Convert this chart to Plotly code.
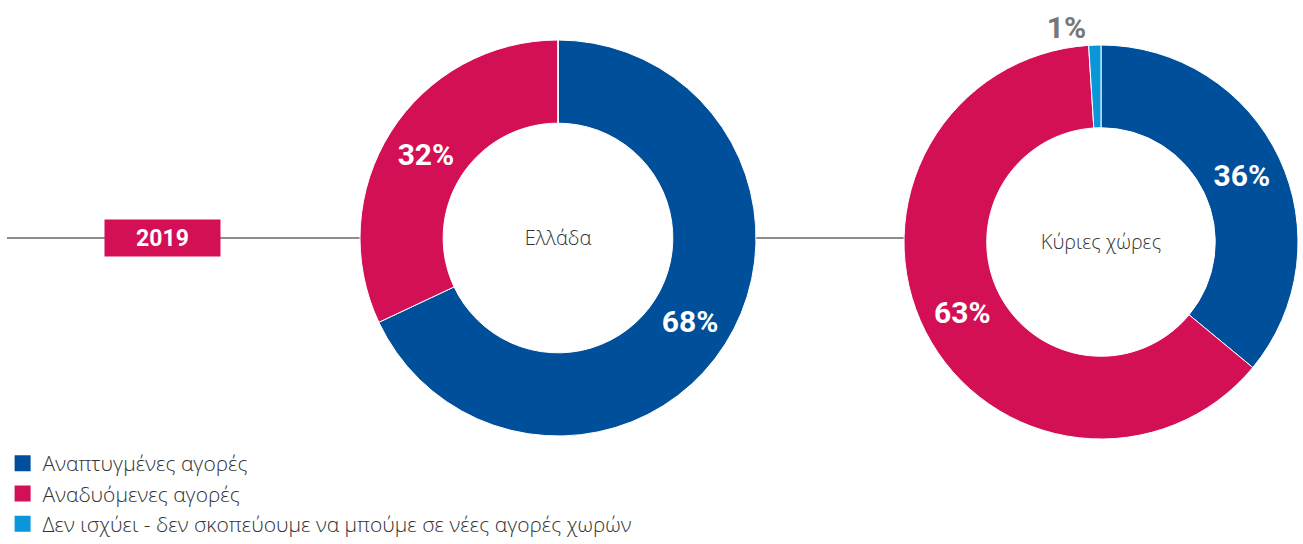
import plotly.graph_objects as go

labels = ["Αναπτυγμένες αγορές", "Αναδυόμενες αγορές",
          "Δεν ισχύει - δεν σκοπεύουμε να μπούμε σε νέες αγορές χωρών"]
greece_values = [68, 32, 0]
main_values = [36, 63, 1]
colors = ["#004F9A", "#D30F55", "#0A97D9"]
titles = ["Ελλάδα", "Κύριες χώρες"]
year_label = "2019"

W, H = 1303, 544

def px_dom(x0, x1, y0, y1):
    return dict(x=[x0 / W, x1 / W], y=[1 - y1 / H, 1 - y0 / H])

fig = go.Figure()

title_font = dict(family="Open Sans", size=20, color="#333333", weight=300)
label_font = dict(family="Roboto", size=30, color="white", weight="bold")

fig.add_trace(go.Pie(
    labels=labels, values=greece_values, hole=0.58, sort=False,
    direction="clockwise", rotation=0,
    marker=dict(colors=colors, line=dict(color="white", width=1)),
    texttemplate=["%{value}%", "%{value}%", ""],
    textposition="inside", insidetextorientation="horizontal",
    textfont=label_font,
    title=dict(text=titles[0], position="middle center", font=title_font),
    domain=px_dom(360, 756, 40, 436),
    hoverinfo="label+percent", showlegend=False,
))

fig.add_trace(go.Pie(
    labels=labels, values=main_values, hole=0.58, sort=False,
    direction="clockwise", rotation=0,
    marker=dict(colors=colors, line=dict(color="white", width=1)),
    texttemplate="%{value}%",
    textposition=["inside", "inside", "outside"],
    insidetextorientation="horizontal",
    textfont=dict(family="Roboto", size=30, color=["white", "white", "#777777"], weight="bold"),
    outsidetextfont=dict(family="Roboto", size=30, color="#777777", weight="bold"),
    title=dict(text=titles[1], position="middle center", font=title_font),
    domain=px_dom(904, 1298, 45, 439),
    hoverinfo="label+percent", showlegend=False,
))

# legend entries (square swatches)
for lab, col in zip(labels, colors):
    fig.add_trace(go.Scatter(
        x=[None], y=[None], mode="markers", name=lab,
        marker=dict(symbol="square", size=16, color=col),
        showlegend=True, hoverinfo="skip",
    ))

line_y = 1 - 238 / H
fig.add_shape(type="line", xref="paper", yref="paper", x0=7 / W, x1=362 / W,
              y0=line_y, y1=line_y, line=dict(color="#8C8C8C", width=2), layer="below")
fig.add_shape(type="line", xref="paper", yref="paper", x0=754 / W, x1=906 / W,
              y0=line_y, y1=line_y, line=dict(color="#8C8C8C", width=2), layer="below")

fig.add_annotation(
    x=162.5 / W, y=line_y, xref="paper", yref="paper", showarrow=False,
    xanchor="center", yanchor="middle",
    text="<b>" + year_label + "</b>", width=115, height=36, bgcolor="#D30F55",
    font=dict(family="Roboto", size=23, color="white"), borderpad=0,
)

fig.update_layout(
    width=W, height=H,
    margin=dict(l=0, r=0, t=0, b=0),
    paper_bgcolor="white", plot_bgcolor="white",
    showlegend=True,
    xaxis=dict(visible=False), yaxis=dict(visible=False),
    legend=dict(x=0.002, y=0.0, xanchor="left", yanchor="bottom",
                font=dict(family="Open Sans", size=21, color="#333333", weight=300),
                traceorder="normal", itemclick=False, bgcolor="rgba(0,0,0,0)"),
)

fig.write_html("out.html")
